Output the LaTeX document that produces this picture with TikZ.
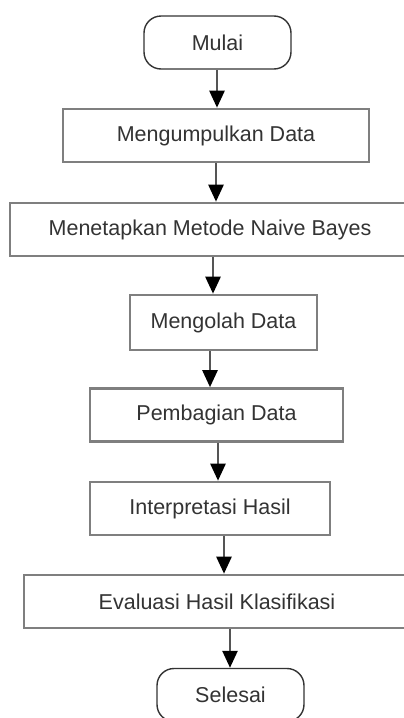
\documentclass[tikz,border=0pt]{standalone}
\usepackage{fontspec}
\setmainfont{Liberation Sans}
\usetikzlibrary{arrows.meta}

\definecolor{boxgrey}{HTML}{7F7F7F}
\definecolor{txtgrey}{HTML}{333333}
\definecolor{flowgrey}{HTML}{555555}

\begin{document}
\begin{tikzpicture}[x=1pt,y=-1pt,
    stepbox/.style={draw=boxgrey, line width=2.6pt, minimum height=53pt,
        inner sep=0pt, text=txtgrey, font=\fontsize{21.5}{26}\selectfont},
    pill/.style={draw=txtgrey, line width=1.4pt, rounded corners=17pt,
        minimum width=147pt, minimum height=53pt, inner sep=0pt,
        text=txtgrey, font=\fontsize{21.5}{26}\selectfont},
    flow/.style={draw=flowgrey, line width=2.5pt,
        -{Triangle[width=15pt,length=17pt,color=black]}}]
    \clip (0,0) rectangle (404,718);
    \fill[white] (0,0) rectangle (404,718);

    % start / end
    \node[pill] (mulai) at (217.5,42.5) {Mulai};
    \node[pill] (selesai) at (230.5,695) {Selesai};

    % steps
    \node[stepbox, minimum width=306pt] (kumpul) at (216,135.5) {Mengumpulkan Data};
    \node[stepbox, minimum width=400pt] (metode) at (210,229.5) {Menetapkan Metode Naive Bayes};
    \node[stepbox, minimum width=187pt, minimum height=55pt] (olah) at (223.5,322.5) {Mengolah Data};
    \node[stepbox, minimum width=253pt] (bagi) at (216.5,415) {Pembagian Data};
    \node[stepbox, minimum width=240pt] (interp) at (210,508.5) {Interpretasi Hasil};
    \node[stepbox, minimum width=386pt] (evaluasi) at (217,601.5) {Evaluasi Hasil Klasifikasi};

    % arrow columns
    \coordinate (x1) at (217,0);
    \coordinate (x2) at (216,0);
    \coordinate (x3) at (213,0);
    \coordinate (x4) at (210,0);
    \coordinate (x5) at (218,0);
    \coordinate (x6) at (224,0);
    \coordinate (x7) at (230,0);

    \draw[flow] (mulai.south -| x1) -- (kumpul.north -| x1);
    \draw[flow] (kumpul.south -| x2) -- (metode.north -| x2);
    \draw[flow] (metode.south -| x3) -- (olah.north -| x3);
    \draw[flow] (olah.south -| x4) -- (bagi.north -| x4);
    \draw[flow] (bagi.south -| x5) -- (interp.north -| x5);
    \draw[flow] (interp.south -| x6) -- (evaluasi.north -| x6);
    \draw[flow] (evaluasi.south -| x7) -- (selesai.north -| x7);
\end{tikzpicture}
\end{document}
